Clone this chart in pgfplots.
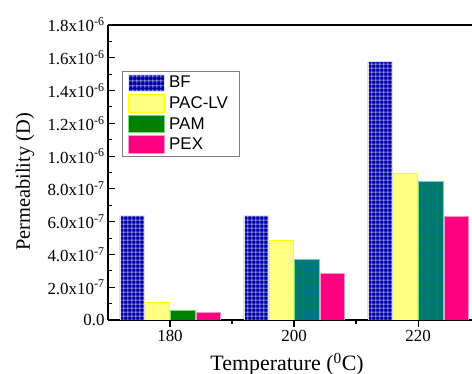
\documentclass[border=0pt]{standalone}
\usepackage{pgfplots}
\pgfplotsset{compat=1.18}
\usepackage{fontspec}
\setmainfont{Liberation Serif}
\setsansfont{Liberation Sans}
\usetikzlibrary{patterns}
\definecolor{bfnavy}{RGB}{0,0,165}
\definecolor{bfline}{RGB}{225,225,255}
\definecolor{pacfill}{RGB}{255,255,128}
\definecolor{pacedge}{RGB}{255,255,0}
\definecolor{pamgreen}{RGB}{0,128,0}
\definecolor{pamteal}{RGB}{0,120,120}
\definecolor{pamline}{RGB}{0,135,40}
\definecolor{pamedge}{RGB}{120,220,120}
\definecolor{pexfill}{RGB}{255,0,128}
\definecolor{pexedge}{RGB}{255,150,200}
\pgfdeclarepatternformonly{bfgrid}{\pgfqpoint{0pt}{0pt}}{\pgfqpoint{4.4bp}{4.4bp}}{\pgfqpoint{4.4bp}{4.4bp}}{%
  \pgfsetlinewidth{0.55bp}%
  \pgfpathmoveto{\pgfqpoint{0pt}{2.2bp}}\pgfpathlineto{\pgfqpoint{4.4bp}{2.2bp}}%
  \pgfpathmoveto{\pgfqpoint{2.2bp}{0pt}}\pgfpathlineto{\pgfqpoint{2.2bp}{4.4bp}}%
  \pgfusepath{stroke}}
\pgfdeclarepatternformonly{pamgrid}{\pgfqpoint{0pt}{0pt}}{\pgfqpoint{5.6bp}{5.6bp}}{\pgfqpoint{5.6bp}{5.6bp}}{%
  \pgfsetlinewidth{0.8bp}%
  \pgfpathmoveto{\pgfqpoint{0pt}{2.8bp}}\pgfpathlineto{\pgfqpoint{5.6bp}{2.8bp}}%
  \pgfpathmoveto{\pgfqpoint{2.8bp}{0pt}}\pgfpathlineto{\pgfqpoint{2.8bp}{5.6bp}}%
  \pgfusepath{stroke}}
\begin{document}
\begin{tikzpicture}
\useasboundingbox (0,0) rectangle (472bp,374bp);
\begin{axis}[
  at={(108bp,54bp)}, anchor=south west,
  scale only axis, width=364bp, height=295bp,
  xmin=170, xmax=228.7, ymin=0, ymax=1.8e-6,
  axis x line*=box, axis y line*=left,
  axis line style={line width=1.3bp},
  xtick={180,200,220}, minor xtick={190,210},
  xticklabels={180,200,220},
  ytick={0,2e-7,4e-7,6e-7,8e-7,1e-6,1.2e-6,1.4e-6,1.6e-6,1.8e-6},
  minor ytick={1e-7,3e-7,5e-7,7e-7,9e-7,1.1e-6,1.3e-6,1.5e-6,1.7e-6},
  yticklabels={0.0,2.0x10\textsuperscript{-7},4.0x10\textsuperscript{-7},6.0x10\textsuperscript{-7},8.0x10\textsuperscript{-7},1.0x10\textsuperscript{-6},1.2x10\textsuperscript{-6},1.4x10\textsuperscript{-6},1.6x10\textsuperscript{-6},1.8x10\textsuperscript{-6}},
  scaled y ticks=false,
  xtick pos=bottom, ytick pos=left,
  tick align=inside,
  major tick length=7bp, minor tick length=4bp,
  every tick/.style={black, line width=1.1bp},
  tick label style={font=\fontsize{17}{20}\selectfont},
  xlabel={Temperature (\textsuperscript{0}C)},
  ylabel={Permeability (D)},
  ylabel style={font=\fontsize{20.5}{24}\selectfont, at={(axis description cs:-0.228,0.468)}, anchor=center},
  xlabel style={font=\fontsize{22}{24}\selectfont, at={(axis description cs:0.492,0)}, anchor=base, yshift=-50.7bp},
  ybar, bar width=3.9,
  legend style={at={(axis description cs:0.039,0.845)}, anchor=north west,
    draw=gray, line width=0.8bp, font=\sffamily\fontsize{17}{18}\selectfont,
    row sep=2.4bp, column sep=4bp, inner xsep=5bp, inner ysep=2.5bp,
    nodes={inner sep=0.5bp}},
  legend cell align=left,
  legend image code/.code={\draw[#1, line width=0.6bp] (0bp,-8.8bp) rectangle (36.5bp,8.8bp);},
]
\addplot[bar shift=-6.15, fill=bfnavy, draw=bfline, line width=0.5bp,
  postaction={pattern=bfgrid, pattern color=bfline}]
  coordinates {(180,6.39e-7) (200,6.39e-7) (220,1.577e-6)};
\addlegendentry{BF}
\addplot[bar shift=-2.05, fill=pacfill, draw=pacedge, line width=0.6bp]
  coordinates {(180,1.10e-7) (200,4.87e-7) (220,8.96e-7)};
\addlegendentry{PAC-LV\hspace*{6bp}}
\addplot[bar shift=2.05, fill=pamgreen, draw=pamedge, line width=0.5bp]
  coordinates {(180,6.2e-8)};
\addlegendentry{PAM}
\addplot[bar shift=2.05, fill=pamteal, draw=pamedge, line width=0.5bp,
  postaction={pattern=pamgrid, pattern color=pamline}, forget plot]
  coordinates {(200,3.72e-7) (220,8.46e-7)};
\addplot[bar shift=6.15, fill=pexfill, draw=pexedge, line width=0.5bp]
  coordinates {(180,4.8e-8) (200,2.86e-7) (220,6.34e-7)};
\addlegendentry{PEX}
\end{axis}
\end{tikzpicture}
\end{document}
